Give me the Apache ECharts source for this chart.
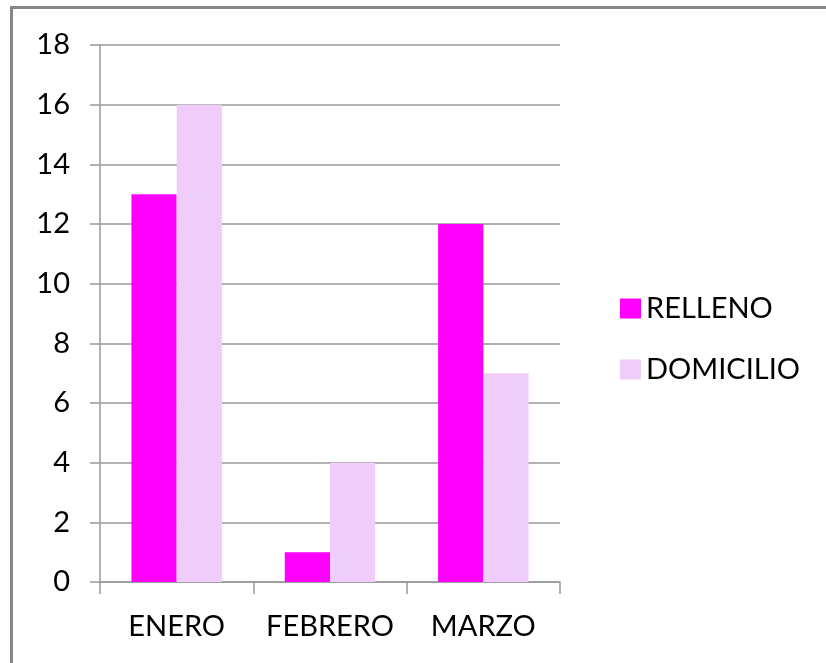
<!DOCTYPE html>
<html>
<head>
<meta charset="utf-8">
<script src="https://cdn.jsdelivr.net/npm/echarts@6/dist/echarts.min.js"></script>
<style>
html,body{margin:0;padding:0;background:#fff;}
#c{width:826px;height:663px;}
</style>
</head>
<body>
<div id="c"></div>
<script>
const categories = ['ENERO', 'FEBRERO', 'MARZO'];
const relleno = [13, 1, 12];
const domicilio = [16, 4, 7];
const yTicks = { min: 0, max: 18, interval: 2 };

const FONT = 'Lato';
const chart = echarts.init(document.getElementById('c'), null, { renderer: 'canvas' });
chart.setOption({
  animation: false,
  backgroundColor: '#ffffff',
  textStyle: { fontFamily: FONT },
  graphic: [{
    type: 'rect',
    shape: { x: 11.5, y: 7.5, width: 900, height: 700 },
    style: { fill: 'none', stroke: '#868686', lineWidth: 3 },
    silent: true
  }],
  grid: { left: 100, top: 45, right: 266, bottom: 81, containLabel: false },
  legend: {
    orient: 'vertical',
    left: 615,
    top: 289,
    itemWidth: 21,
    itemHeight: 20,
    itemGap: 32,
    icon: 'rect',
    textStyle: { fontFamily: FONT, fontSize: 29, color: '#000' },
    data: ['RELLENO', 'DOMICILIO']
  },
  xAxis: {
    type: 'category',
    data: categories,
    boundaryGap: true,
    axisLine: { show: true, lineStyle: { color: '#999999', width: 1.5 } },
    axisTick: { show: true, length: 12, alignWithLabel: false, lineStyle: { color: '#999999', width: 1.5 } },
    axisLabel: { fontFamily: FONT, fontSize: 29, color: '#000', margin: 30, interval: 0, hideOverlap: false },
    splitLine: { show: false }
  },
  yAxis: {
    type: 'value',
    min: yTicks.min,
    max: yTicks.max,
    interval: yTicks.interval,
    axisLine: { show: true, lineStyle: { color: '#999999', width: 1.5 } },
    axisTick: { show: true, length: 10, lineStyle: { color: '#999999', width: 1.5 } },
    axisLabel: { fontFamily: FONT, fontSize: 29, color: '#000', margin: 30 },
    splitLine: { show: true, lineStyle: { color: '#999999', width: 1.5 } }
  },
  series: [
    {
      name: 'RELLENO',
      type: 'bar',
      data: relleno,
      barGap: '0%',
      barCategoryGap: '41%',
      itemStyle: { color: '#FF00FF' }
    },
    {
      name: 'DOMICILIO',
      type: 'bar',
      data: domicilio,
      barGap: '0%',
      barCategoryGap: '41%',
      itemStyle: { color: '#F0CCFA' }
    }
  ]
});
</script>
</body>
</html>
